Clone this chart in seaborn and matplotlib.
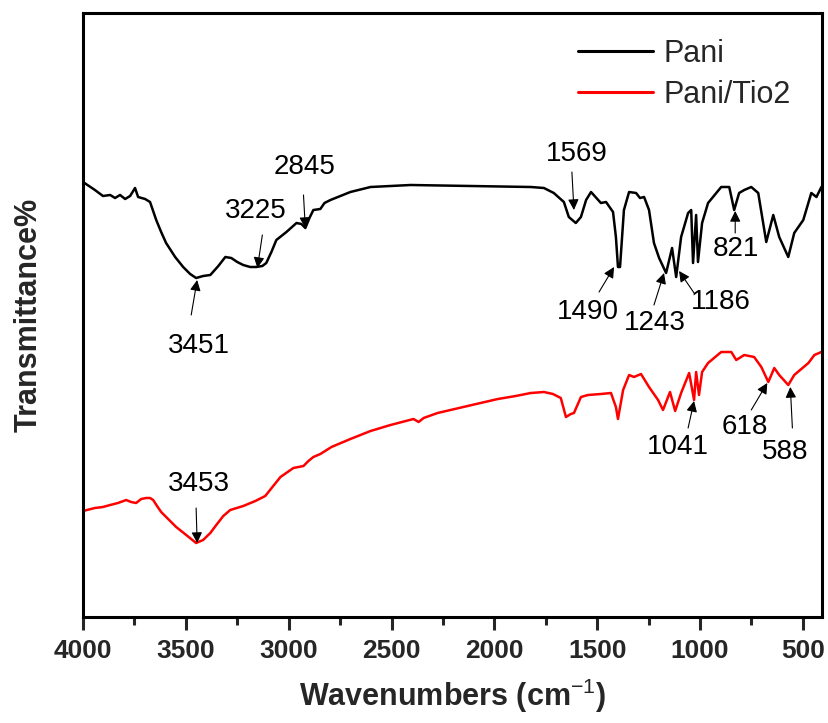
import matplotlib
matplotlib.use("Agg")
import matplotlib.pyplot as plt
import seaborn as sns
import pandas as pd

# ---------------- data ----------------
pani_wn = [4000, 3942, 3903, 3868, 3844, 3820, 3795, 3771, 3747, 3732, 3698, 3674, 3644, 3620,
           3596, 3552, 3513, 3479, 3450, 3416, 3381, 3342, 3308, 3279, 3250, 3221, 3187, 3157,
           3128, 3109, 3084, 3060, 3011, 2962, 2938, 2919, 2899, 2880, 2846, 2826, 2797, 2700,
           2602, 2407, 2115, 1823, 1759, 1711, 1662, 1638, 1604, 1579, 1554, 1530, 1482, 1457,
           1423, 1409, 1399, 1389, 1370, 1345, 1311, 1292, 1272, 1248, 1224, 1199, 1165, 1136,
           1116, 1092, 1058, 1043, 1034, 1019, 1010, 990, 961, 897, 858, 834, 810, 785, 751,
           717, 678, 644, 615, 571, 542, 498, 459, 434, 410]
pani_T = [87.0, 85.4, 84.2, 84.4, 83.8, 84.4, 83.6, 84.2, 85.8, 84.0, 83.6, 83.0, 79.4, 77.0,
          74.8, 72.0, 70.0, 68.6, 67.8, 68.2, 68.4, 70.2, 72.0, 71.8, 71.0, 70.4, 70.0, 70.0,
          70.2, 70.8, 73.0, 75.4, 77.0, 78.8, 78.6, 77.8, 79.8, 81.4, 81.6, 82.8, 83.4, 85.0,
          86.0, 86.4, 86.2, 86.0, 85.8, 84.8, 83.0, 80.0, 78.8, 80.0, 83.4, 85.0, 82.8, 83.0,
          81.0, 76.0, 70.0, 70.0, 81.4, 85.0, 84.8, 83.8, 84.0, 81.4, 74.8, 71.8, 68.8, 73.8,
          68.0, 76.0, 80.8, 81.4, 70.8, 80.4, 71.0, 78.8, 82.8, 86.0, 86.0, 81.4, 84.8, 85.4, 86.0,
          84.8, 75.0, 80.4, 76.0, 72.0, 76.8, 79.4, 84.8, 84.0, 86.0]

tio2_wn = [4000, 3942, 3903, 3868, 3830, 3790, 3766, 3742, 3717, 3693, 3674, 3659, 3640, 3620,
           3586, 3547, 3498, 3450, 3416, 3381, 3352, 3318, 3284, 3221, 3162, 3114, 3079, 3040,
           2977, 2928, 2904, 2880, 2846, 2792, 2700, 2602, 2505, 2393, 2368, 2344, 2276, 2130,
           1983, 1896, 1823, 1759, 1715, 1677, 1652, 1628, 1613, 1579, 1545, 1482, 1433, 1409,
           1399, 1374, 1345, 1321, 1287, 1248, 1204, 1180, 1146, 1121, 1092, 1053, 1029, 1019,
           1005, 990, 961, 897, 848, 824, 785, 737, 702, 668, 639, 615, 571, 542, 473, 444, 410]
tio2_T = [21.2, 21.8, 22.0, 22.4, 22.8, 23.4, 23.0, 22.8, 23.6, 23.8, 23.8, 23.4, 22.2, 21.0,
          19.6, 18.0, 16.4, 14.8, 15.4, 16.8, 18.4, 20.2, 21.4, 22.2, 23.2, 24.2, 26.0, 28.0,
          29.8, 30.2, 31.2, 32.0, 32.6, 34.0, 35.6, 37.2, 38.4, 39.6, 39.0, 39.8, 40.8, 42.2,
          43.6, 44.2, 44.8, 45.0, 44.6, 43.8, 40.0, 40.6, 40.8, 44.0, 44.4, 44.6, 44.8, 42.0,
          39.6, 45.4, 48.4, 48.0, 48.6, 46.0, 43.4, 41.4, 45.0, 41.2, 44.8, 48.8, 43.4, 49.0,
          44.4, 49.0, 50.8, 53.0, 53.0, 51.4, 52.4, 52.0, 50.0, 47.0, 49.8, 48.4, 46.4, 48.4,
          50.8, 52.4, 53.0]

series_names = ["Pani", "Pani/Tio2"]
series_colors = ["black", "red"]

x_ticks = [4000, 3500, 3000, 2500, 2000, 1500, 1000, 500]
x_minor = [3750, 3250, 2750, 2250, 1750, 1250, 750]

ann_labels = ["3451", "3225", "2845", "1569", "1490", "1243", "1186", "821",
              "3453", "1041", "618", "588"]
ann_text_w = [3435, 3162, 2924, 1599, 1545, 1219, 897, 824, 3435, 1107, 780, 585]
ann_text_T = [54.2, 81.2, 90.0, 92.6, 61.0, 58.8, 63.0, 73.6, 26.6, 34.0, 38.0, 33.0]
ann_tail_w = [3474, 3128, 2928, 1623, 1491, 1224, 1029, 829, 3450, 1058, 751, 551]
ann_tail_T = [60.4, 76.4, 84.4, 89.0, 65.0, 62.4, 64.8, 76.8, 21.8, 37.8, 41.4, 37.8]
ann_head_w = [3445, 3152, 2919, 1613, 1418, 1175, 1102, 829, 3445, 1029, 673, 561]
ann_head_T = [67.4, 69.8, 77.8, 81.4, 70.0, 68.8, 69.2, 81.2, 14.8, 43.2, 46.8, 46.0]

# ---------------- table ----------------
df = pd.concat([
    pd.DataFrame({"wn": pani_wn, "T": pani_T, "sample": series_names[0]}),
    pd.DataFrame({"wn": tio2_wn, "T": tio2_T, "sample": series_names[1]}),
], ignore_index=True)

# ---------------- style ----------------
sns.set_theme(style="ticks")
plt.rcParams["font.family"] = ["Liberation Sans", "DejaVu Sans"]
plt.rcParams["mathtext.fontset"] = "custom"
plt.rcParams["mathtext.rm"] = "Liberation Sans"
plt.rcParams["mathtext.bf"] = "Liberation Sans:bold"

fig = plt.figure(figsize=(8.29, 7.23), dpi=100)
ax = fig.add_axes([83 / 829, 1 - 617 / 723, (822 - 83) / 829, (617 - 13) / 723])

sns.lineplot(data=df, x="wn", y="T", hue="sample", palette=dict(zip(series_names, series_colors)),
             estimator=None, sort=False, linewidth=1.8, ax=ax)

ax.set_xlim(4000, 407)
ax.set_ylim(0, 120.8)
ax.set_xticks(x_ticks)
ax.set_xticks(x_minor, minor=True)
ax.set_yticks([])
ax.tick_params(axis="x", which="major", direction="out", length=9, width=2.2, pad=7,
               labelsize=19)
ax.tick_params(axis="x", which="minor", direction="out", length=6, width=2.2)
for lab in ax.get_xticklabels():
    lab.set_fontweight("bold")
for sp in ax.spines.values():
    sp.set_linewidth(2.2)
    sp.set_color("black")

ax.set_xlabel(r"Wavenumbers (cm$^{-1}$)", fontsize=22, fontweight="bold", labelpad=10)
ax.set_ylabel("Transmittance%", fontsize=22, fontweight="bold", labelpad=28)

for lab, tw, tT, aw, aT, hw, hT in zip(ann_labels, ann_text_w, ann_text_T, ann_tail_w,
                                       ann_tail_T, ann_head_w, ann_head_T):
    ax.text(tw, tT, lab, ha="center", va="center", fontsize=20, color="black")
    ax.annotate("", xy=(hw, hT), xytext=(aw, aT),
                arrowprops=dict(arrowstyle="-|>", mutation_scale=16, lw=0.8, color="black",
                                shrinkA=0, shrinkB=0))

leg = ax.legend(loc="upper left", bbox_to_anchor=(578 / 829, 1 - 39 / 723),
                bbox_transform=fig.transFigure, frameon=False, fontsize=22,
                handlelength=2.45, handletextpad=0.35, borderpad=0, borderaxespad=0,
                labelspacing=0.36, title=None)
for line in leg.get_lines():
    line.set_linewidth(2.2)

fig.savefig("out.png", dpi=100)
